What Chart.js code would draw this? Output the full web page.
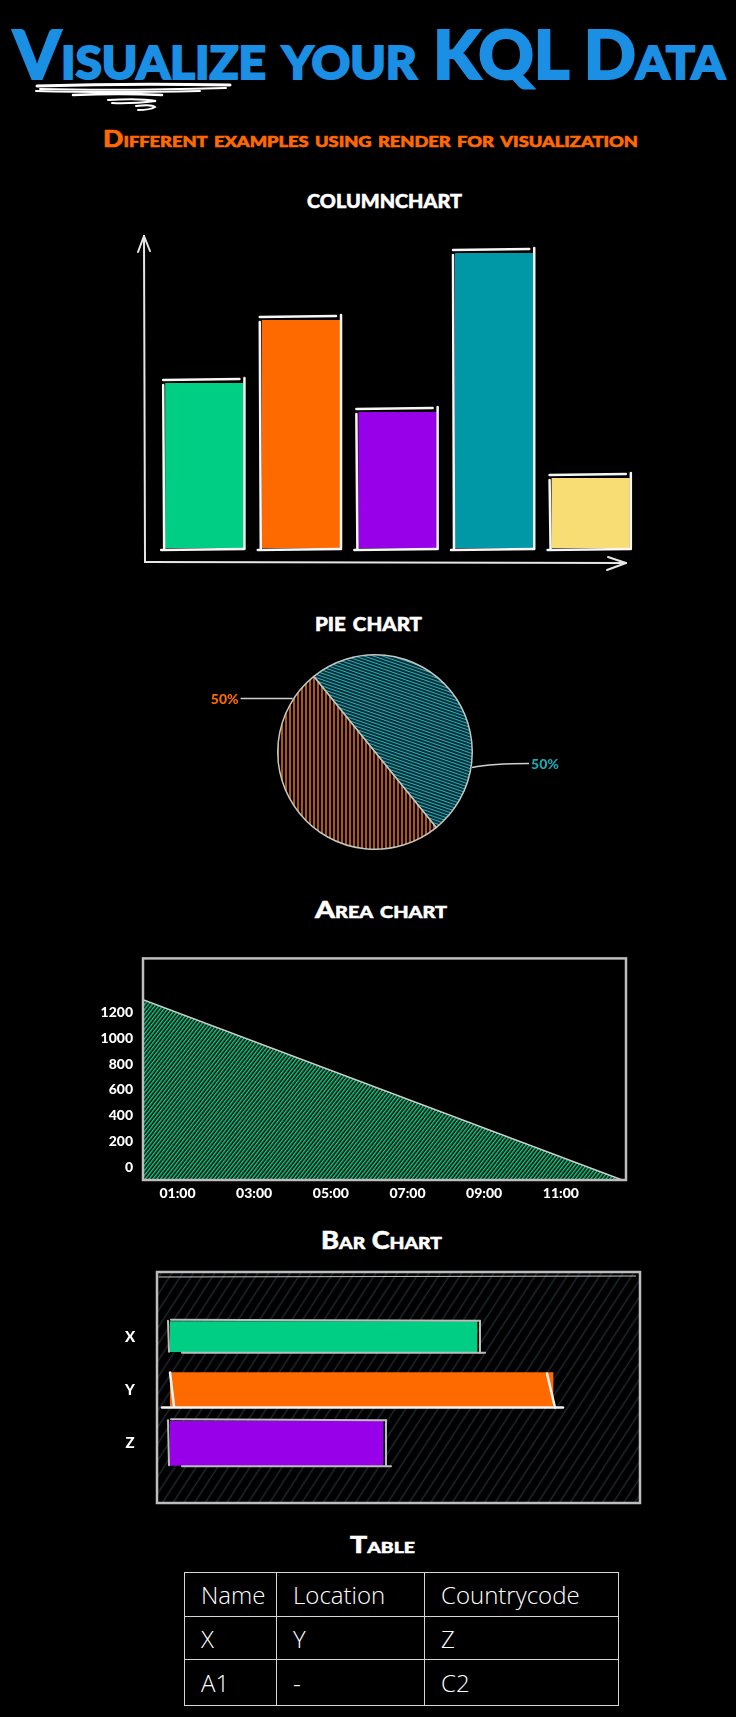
<!DOCTYPE html>
<html><head><meta charset="utf-8">
<script src="https://cdn.jsdelivr.net/npm/chart.js@4.4.0/dist/chart.umd.min.js"></script>
<style>
html,body{margin:0;padding:0;background:#000;}
#page{position:relative;width:736px;height:1717px;background:#000;overflow:hidden;}
.t{position:absolute;white-space:nowrap;font-family:Lato,'Noto Sans',sans-serif;font-weight:900;font-variant:small-caps;transform-origin:0 0;line-height:1;color:#fff;}
canvas{position:absolute;}
#tbl{position:absolute;left:184px;top:1572px;border-collapse:collapse;font-family:'Open Sans',sans-serif;font-weight:300;color:#fff;font-size:24px;}
#tbl td{border:1.5px solid #d6d6d6;padding:0 0 0 16px;white-space:nowrap;vertical-align:middle;}
</style></head>
<body><div id="page">
<div class="t" data-w="712" style="left:13px;top:21px;font-size:66px;color:#1a8fe3;-webkit-text-stroke:2px #1a8fe3">Visualize your KQL Data</div>
<svg style="position:absolute;left:0;top:0" width="300" height="130">
<g fill="none" stroke="#fff" stroke-linecap="round">
<path d="M37 86 Q130 83 230 85" stroke-width="3"/>
<path d="M40 89 Q120 91 226 88" stroke-width="2"/>
<path d="M36 91 Q110 93 200 91" stroke-width="2"/>
<path d="M73 95 Q120 93 162 95" stroke-width="2.5"/>
<path d="M108 100 Q140 98 156 101 Q130 104 112 103" stroke-width="2"/>
<path d="M136 106 Q152 104 155 107 Q150 110 138 110" stroke-width="2"/>
</g></svg>
<div class="t" data-w="535" style="left:103px;top:128px;font-size:22px;color:#ff6a00;-webkit-text-stroke:0.6px #ff6a00">Different examples using render for visualization</div>
<div class="t" data-w="155" style="left:307px;top:185px;font-size:26px;-webkit-text-stroke:0.5px #fff">columnchart</div>
<div class="t" data-w="107" style="left:315px;top:608px;font-size:26px;-webkit-text-stroke:0.5px #fff">pie chart</div>
<div class="t" data-w="132" style="left:315px;top:898px;font-size:23px;-webkit-text-stroke:0.5px #fff">Area chart</div>
<div class="t" data-w="121" style="left:321px;top:1228px;font-size:24px;-webkit-text-stroke:0.5px #fff">Bar Chart</div>
<div class="t" data-w="65" style="left:350px;top:1534px;font-size:22px;-webkit-text-stroke:0.5px #fff">Table</div>

<canvas id="col" width="736" height="360" style="left:0;top:220px"></canvas>
<canvas id="pie" width="400" height="215" style="left:180px;top:645px"></canvas>
<canvas id="area" width="550" height="270" style="left:90px;top:940px"></canvas>
<canvas id="bar" width="560" height="250" style="left:100px;top:1260px"></canvas>
<table id="tbl"></table>
</div>
<script>
// ---------- DATA ----------
const colCategories = ['A','B','C','D','E'];
const colValues = [165, 228, 136, 295, 70];
const colColors = ['#00ce84','#ff6a00','#9900ea','#0097a7','#f8dc74'];

const pieCategories = ['B','A'];
const pieValues = [50, 50];
const pieLineColors = ['#1fb0c2','#ff7a1a'];
const pieLabelColors = ['#19a9b8','#ff6a00'];
const pieLabelFrac = [0.767, 0.9];

const areaX = [0.1, 12.6];
const areaY = [1400, 0];
const areaTickHours = [1,3,5,7,9,11];
const areaTickLabels = ['01:00','03:00','05:00','07:00','09:00','11:00'];

const barCategories = ['X','Y','Z'];
const barValues = [307, 383, 213];
const barColors = ['#00ce84','#ff6a00','#9900ea'];

const tableHeader = ['Name','Location','Countrycode'];
const tableRows = [['X','Y','Z'],['A1','-','C2']];
const tableColWidths = [91,147,193];
const tableRowHeights = [43,42,45];

// ---------- text fitting ----------
document.querySelectorAll('.t').forEach(el=>{
  const w=+el.dataset.w; const r=el.getBoundingClientRect().width;
  if(w&&r) el.style.transform='scaleX('+(w/r)+')';
});

// ---------- table ----------
(function(){
  const t=document.getElementById('tbl');
  const all=[tableHeader].concat(tableRows);
  all.forEach((row,ri)=>{
    const tr=document.createElement('tr');
    row.forEach((c,ci)=>{
      const td=document.createElement('td');
      td.textContent=c; td.style.width=(tableColWidths[ci]-16)+'px'; td.style.height=tableRowHeights[ri]+'px';
      tr.appendChild(td);
    });
    t.appendChild(tr);
  });
})();

// ---------- helpers ----------
function hatch(color, spacing, angleDeg, lw, bg){
  const c=document.createElement('canvas'); c.width=spacing; c.height=spacing;
  const x=c.getContext('2d');
  if(bg){x.fillStyle=bg;x.fillRect(0,0,spacing,spacing);}
  x.strokeStyle=color; x.lineWidth=lw; x.beginPath(); x.moveTo(0,spacing/2); x.lineTo(spacing,spacing/2); x.stroke();
  const p=document.createElement('canvas').getContext('2d').createPattern(c,'repeat');
  p.setTransform(new DOMMatrix().rotateSelf(angleDeg));
  return p;
}
function line(ctx,x1,y1,x2,y2){ctx.beginPath();ctx.moveTo(x1,y1);ctx.lineTo(x2,y2);ctx.stroke();}
Chart.defaults.font.family='Lato, "Noto Sans", sans-serif';
Chart.defaults.color='#fff';

// ---------- column chart ----------
const colSketch={id:'colSketch',afterDatasetsDraw(chart){
  const ctx=chart.ctx, ca=chart.chartArea;
  ctx.save(); ctx.strokeStyle='#e6e6e6'; ctx.lineWidth=2; ctx.lineCap='round';
  const ox=ca.left-11, oy=ca.bottom+14, ex=ca.right-13;
  line(ctx,ox,oy,ox-1,ca.top+1);
  line(ctx,ox-1,ca.top+1,ox-7,ca.top+17); line(ctx,ox-1,ca.top+1,ox+5,ca.top+16);
  line(ctx,ox,oy,ex,oy+1);
  line(ctx,ex,oy+1,ex-18,oy-5); line(ctx,ex,oy+1,ex-19,oy+8);
  ctx.strokeStyle='#f6f6f6'; ctx.lineWidth=2.5;
  chart.getDatasetMeta(0).data.forEach((b,i)=>{
    const p=b.getProps(['x','y','base','width']);
    const l=p.x-p.width/2, r=p.x+p.width/2, t=p.y, bt=p.base;
    line(ctx,l-2,t-3,r-4,t-4);
    line(ctx,l-2,t+2,l-1,bt+1);
    line(ctx,r+1,t-5,r+1,bt);
    line(ctx,l-4,bt+2,r+1,bt+1);
  });
  ctx.restore();
}};
new Chart(document.getElementById('col'),{
  type:'bar',
  data:{labels:colCategories,datasets:[{data:colValues,backgroundColor:colColors,barPercentage:0.81,categoryPercentage:1}]},
  options:{responsive:false,animation:false,devicePixelRatio:1,
    layout:{padding:{left:156,right:97,top:15,bottom:32}},
    plugins:{legend:{display:false},tooltip:{enabled:false}},
    scales:{x:{display:false},y:{display:false,min:0,max:313}}},
  plugins:[colSketch]
});

// ---------- pie ----------
const pieLabelsPlugin={id:'pieLabels',afterDatasetsDraw(chart){
  const ctx=chart.ctx; const meta=chart.getDatasetMeta(0);
  const total=pieValues.reduce((a,b)=>a+b,0);
  ctx.save();
  meta.data.forEach((arc,i)=>{
    const p=arc.getProps(['x','y','startAngle','endAngle','outerRadius']);
    const a=p.startAngle+pieLabelFrac[i]*(p.endAngle-p.startAngle);
    const ex=p.x+Math.cos(a)*(p.outerRadius+1), ey=p.y+Math.sin(a)*(p.outerRadius+1);
    const dir=Math.cos(a)>=0?1:-1;
    const lx=ex+dir*(dir>0?57:52), ly=ey+(dir>0?-4:0);
    ctx.strokeStyle='#cfcfcf'; ctx.lineWidth=1.5;
    ctx.beginPath(); ctx.moveTo(ex,ey); ctx.quadraticCurveTo(ex+dir*20,ly,lx,ly); ctx.stroke();
    ctx.fillStyle=pieLabelColors[i]; ctx.font='900 14px Lato, sans-serif';
    ctx.textAlign=dir>0?'left':'right'; ctx.textBaseline='middle';
    ctx.fillText(Math.round(pieValues[i]/total*100)+'%',lx+dir*2,ly+1);
  });
  ctx.restore();
}};
new Chart(document.getElementById('pie'),{
  type:'pie',
  data:{labels:pieCategories,datasets:[{data:pieValues,
    backgroundColor:[hatch(pieLineColors[0],3,19,1.5,'#000'),hatch(pieLineColors[1],4,90,1.4,'#000')],
    borderColor:'#c4c4c4',borderWidth:1.5}]},
  options:{responsive:false,animation:false,devicePixelRatio:1,rotation:-39,
    layout:{padding:{left:97,right:107,top:9,bottom:10}},
    plugins:{legend:{display:false},tooltip:{enabled:false}}},
  plugins:[pieLabelsPlugin]
});

// ---------- area ----------
const areaBox={id:'areaBox',afterDraw(chart){
  const ctx=chart.ctx, ca=chart.chartArea;
  ctx.save(); ctx.strokeStyle='#bdbdbd'; ctx.lineWidth=2.5;
  ctx.strokeRect(ca.left,ca.top,ca.right-ca.left,ca.bottom-ca.top); ctx.restore();
}};
new Chart(document.getElementById('area'),{
  type:'line',
  data:{datasets:[{data:areaX.map((x,i)=>({x:x,y:areaY[i]})),fill:'origin',
    backgroundColor:hatch('#16cc86',3.5,-52,1.5,'#000'),borderColor:'#cfcfcf',borderWidth:1.5,pointRadius:0,tension:0}]},
  options:{responsive:false,animation:false,devicePixelRatio:1,
    layout:{padding:{top:12,right:14,left:0,bottom:0}},
    plugins:{legend:{display:false},tooltip:{enabled:false}},
    scales:{
      x:{type:'linear',min:0.1,max:12.7,grid:{display:false,drawTicks:false},border:{display:false},
        afterBuildTicks:s=>{s.ticks=areaTickHours.map(v=>({value:v}));},
        afterFit:s=>{s.height=30;},
        ticks:{color:'#fff',font:{size:14,weight:'900'},padding:5,maxRotation:0,autoSkip:false,
          callback:(v)=>areaTickLabels[areaTickHours.indexOf(v)]}},
      y:{min:0,max:1721,grid:{display:false,drawTicks:false},border:{display:false},
        afterBuildTicks:s=>{s.ticks=s.ticks.filter(t=>t.value<=1200&&t.value%200===0);},
        afterFit:s=>{s.width=53;},
        ticks:{stepSize:200,color:'#fff',font:{size:14,weight:'900'},padding:10,labelOffset:-13,
          callback:(v)=>String(v)}}
    }},
  plugins:[areaBox]
});

// ---------- bar ----------
const barThick=[30,35,44];
const barDeco={id:'barDeco',
  beforeDatasetsDraw(chart){
    const ctx=chart.ctx, ca=chart.chartArea;
    const L=ca.left-13, R=ca.right+2, T=ca.top-38, B=ca.bottom+33;
    ctx.save(); ctx.beginPath(); ctx.rect(L,T,R-L,B-T); ctx.clip();
    ctx.fillStyle=hatch('#1f2a32',9,-57,1.4,'#000'); ctx.fillRect(L,T,R-L,B-T);
    ctx.restore();
    ctx.save(); ctx.strokeStyle='#bdbdbd'; ctx.lineWidth=2.5; ctx.strokeRect(L,T,R-L,B-T);
    ctx.lineWidth=1.2; line(ctx,L+2,T+5,R-4,T+4); ctx.restore();
    ctx.save(); ctx.fillStyle='#fff'; ctx.font='900 15px Lato, sans-serif'; ctx.textAlign='center'; ctx.textBaseline='middle';
    barCategories.forEach((c,i)=>ctx.fillText(c,ca.left-40,chart.scales.y.getPixelForValue(i)));
    ctx.restore();
  },
  afterDatasetsDraw(chart){
    const ctx=chart.ctx; ctx.save(); ctx.lineCap='round';
    chart.data.datasets.forEach((ds,di)=>{
      const b=chart.getDatasetMeta(di).data[di]; if(!b) return;
      const p=b.getProps(['x','y','base','height']);
      const l=p.base, r=p.x, t=p.y-p.height/2, bt=p.y+p.height/2, i=di;
      ctx.strokeStyle=i===1?'#f4f4f4':'#bdbdbd'; ctx.lineWidth=i===1?2.5:2;
      if(i===1){line(ctx,l-8,bt,r+10,bt); line(ctx,l,t,l+4,bt-1); line(ctx,r-6,t+1,r+2,bt);}
      else{line(ctx,l+1,t-2,r+3,t-1); line(ctx,r+3,t-1,r+3,bt+1); line(ctx,l+12,bt+1,r+8,bt+1); line(ctx,l-2,t-1,l-1,bt);}
    });
    ctx.restore();
  }};
new Chart(document.getElementById('bar'),{
  type:'bar',
  data:{labels:barCategories,datasets:barCategories.map((c,i)=>({
    data:barValues.map((v,j)=>j===i?v:null),backgroundColor:barColors[i],barThickness:barThick[i],grouped:false}))},
  options:{indexAxis:'y',responsive:false,animation:false,devicePixelRatio:1,
    layout:{padding:{left:70,right:22,top:50,bottom:40}},
    plugins:{legend:{display:false},tooltip:{enabled:false}},
    scales:{x:{display:false,min:0,max:468},y:{display:false}}},
  plugins:[barDeco]
});
</script>
</body></html>
